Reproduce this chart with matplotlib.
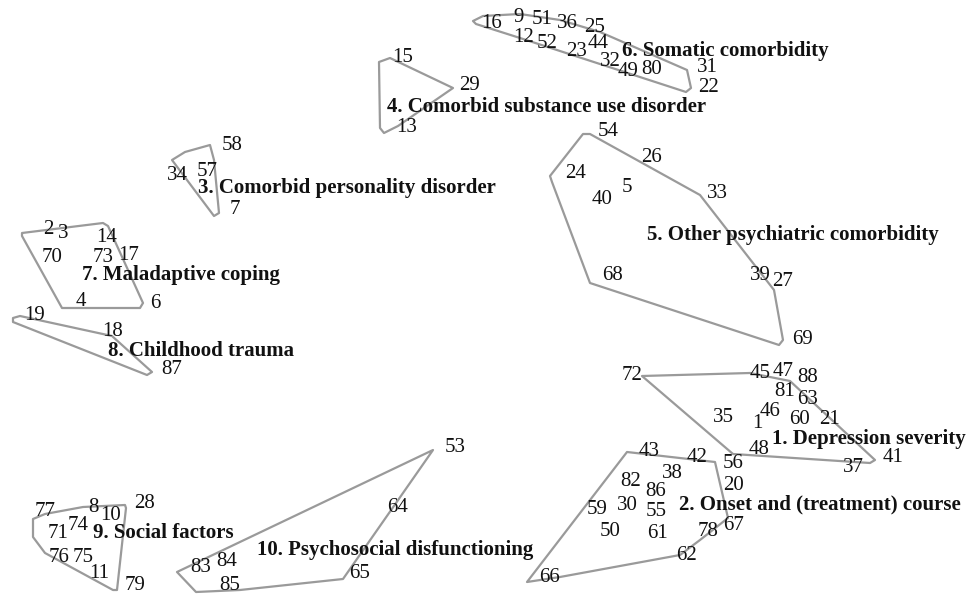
import matplotlib
matplotlib.use("Agg")
import matplotlib.pyplot as plt

# statement numbers and where their labels sit on the map (pixel space, y down)
stmt_ids = [16, 9, 51, 36, 25, 12, 52, 23, 44, 32, 49, 80, 31, 22,
            15, 29, 13,
            58, 34, 57, 7,
            2, 3, 14, 70, 73, 17, 4, 6,
            19, 18, 87,
            54, 26, 24, 5, 40, 33, 68, 39, 27, 69,
            72, 45, 47, 88, 81, 63, 46, 35, 1, 60, 21, 48, 37, 41,
            43, 42, 56, 38, 82, 20, 86, 59, 30, 55, 50, 61, 78, 67, 62, 66,
            77, 8, 10, 28, 71, 74, 76, 75, 11, 79,
            83, 84, 85, 53, 64, 65]
stmt_x = [492, 519, 542, 567, 595, 524, 547, 577, 598, 610, 628, 652, 707, 709,
          403, 470, 407,
          232, 177, 207, 235,
          48, 63, 107, 52, 103, 129, 81, 155,
          35, 113, 172,
          608, 652, 576, 627, 602, 717, 613, 760, 783, 803,
          632, 760, 783, 808, 785, 808, 770, 723, 757, 800, 830, 759, 853, 893,
          649, 697, 733, 672, 631, 734, 656, 597, 627, 656, 610, 658, 708, 734, 687, 550,
          45, 93, 111, 145, 58, 78, 59, 83, 99, 135,
          201, 227, 230, 455, 398, 360]
stmt_y = [23, 17, 19, 24, 27, 37, 43, 51, 44, 62, 72, 70, 68, 87,
          57, 85, 128,
          145, 176, 172, 210,
          230, 234, 237, 257, 258, 255, 301, 303,
          315, 332, 370,
          132, 158, 173, 188, 200, 194, 276, 275, 282, 339,
          375, 374, 372, 378, 392, 399, 412, 418, 423, 420, 419, 450, 467, 457,
          452, 458, 463, 473, 482, 485, 492, 509, 506, 512, 531, 533, 532, 525, 555, 577,
          512, 507, 515, 504, 533, 525, 558, 558, 573, 585,
          567, 561, 585, 447, 508, 573]

# cluster names and label anchors (left edge, vertical centre)
clusters = ["1. Depression severity", "2. Onset and (treatment) course",
            "3. Comorbid personality disorder", "4. Comorbid substance use disorder",
            "5. Other psychiatric comorbidity", "6. Somatic comorbidity",
            "7. Maladaptive coping", "8. Childhood trauma",
            "9. Social factors", "10. Psychosocial disfunctioning"]
cluster_x = [772, 679, 198, 387, 647, 622, 82, 108, 93, 257]
cluster_y = [439, 504, 188, 107, 235, 51, 275, 351, 533, 550]

# hull outlines, one list of vertices per cluster
hull_x = [
    [642, 750, 790, 875, 870, 733],
    [627, 715, 728, 700, 680, 560, 527],
    [172, 185, 210, 214, 219, 214],
    [379, 390, 453, 398, 384, 380],
    [583, 590, 700, 774, 783, 779, 590, 552, 550],
    [473, 483, 520, 560, 600, 687, 691, 686, 520, 476],
    [22, 103, 108, 143, 140, 62, 22],
    [13, 20, 112, 152, 147, 13],
    [33, 45, 83, 125, 126, 117, 113, 45, 33],
    [433, 343, 240, 196, 177],
]
hull_y = [
    [376, 373, 381, 460, 463, 454],
    [452, 462, 518, 540, 555, 577, 582],
    [160, 152, 145, 160, 213, 216],
    [62, 58, 88, 126, 133, 128],
    [134, 134, 195, 290, 340, 345, 283, 182, 176],
    [21, 16, 14, 20, 32, 70, 88, 92, 38, 24],
    [233, 223, 226, 303, 308, 308, 236],
    [318, 316, 336, 372, 375, 322],
    [519, 514, 507, 505, 508, 590, 590, 553, 537],
    [450, 579, 590, 592, 572],
]

plt.rcParams["font.family"] = ["Liberation Serif", "DejaVu Serif"]

fig = plt.figure(figsize=(9.69, 5.94), dpi=100)
ax = fig.add_axes([0, 0, 1, 1])
ax.set_xlim(0, 969)
ax.set_ylim(594, 0)
ax.axis("off")

for hx, hy in zip(hull_x, hull_y):
    ax.fill(hx, hy, facecolor="none", edgecolor="#9a9a9a", linewidth=1.6, joinstyle="round")

for s, x, y in zip(stmt_ids, stmt_x, stmt_y):
    ax.text(x, y, str(s), ha="center", va="center", fontsize=15, color="#111111")

for name, x, y in zip(clusters, cluster_x, cluster_y):
    ax.text(x, y, name, ha="left", va="center", fontsize=15, fontweight="bold", color="#111111")

fig.savefig("out.png", dpi=100)
